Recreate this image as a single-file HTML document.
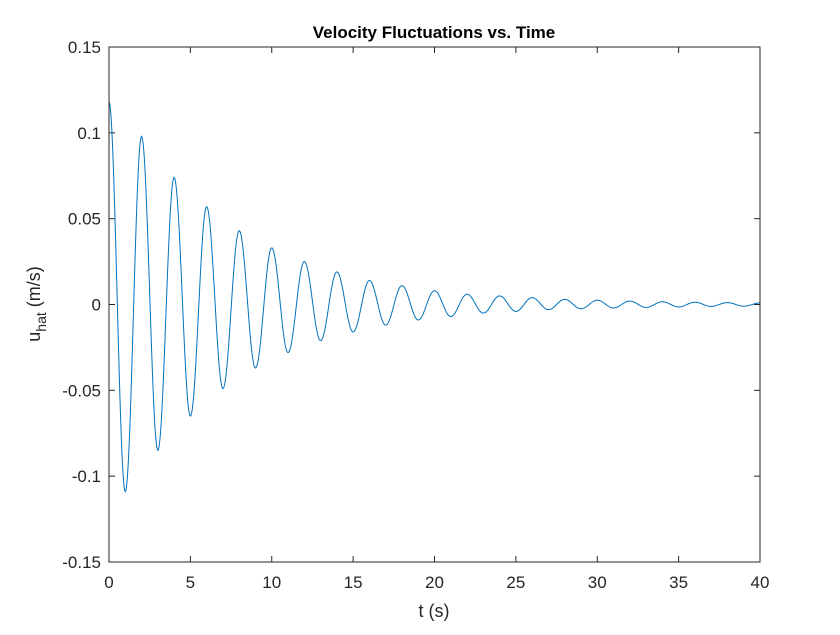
<!DOCTYPE html>
<html><head><meta charset="utf-8"><style>
body{margin:0;background:#fff;}
svg text{font-family:"Liberation Sans",Arial,sans-serif;fill:#262626;}
</style></head><body>
<svg id="chart" width="840" height="630" viewBox="0 0 840 630">
<rect x="0" y="0" width="840" height="630" fill="#fff"/>
<g id="ticks"></g>
<path id="series" fill="none" stroke="#0072BD" stroke-width="1"/>
<rect x="109" y="47" width="651" height="515" fill="none" stroke="#262626" stroke-width="1"/>
<text x="434" y="38" text-anchor="middle" font-size="17" font-weight="bold" style="fill:#000">Velocity Fluctuations vs. Time</text>
<text x="434" y="617" text-anchor="middle" font-size="18">t (s)</text>
<text transform="translate(40,304) rotate(-90)" text-anchor="middle" font-size="18">u<tspan font-size="14" dy="6">hat</tspan><tspan dy="-6"> (m/s)</tspan></text>
</svg>
<script>
const extremaT=[0,1,2,3,4,5,6,7,8,9,10,11,12,13,14,15,16,17,18,19,20,21,22,23,24,25,26,27,28,29,30,31,32,33,34,35,36,37,38,39,40];
const extremaV=[0.118,-0.109,0.098,-0.085,0.074,-0.065,0.057,-0.049,0.043,-0.037,0.033,-0.028,0.025,-0.021,0.019,-0.016,0.014,-0.012,0.011,-0.009,0.008,-0.007,0.006,-0.005,0.005,-0.004,0.004,-0.003,0.003,-0.0025,0.0025,-0.002,0.002,-0.0017,0.0016,-0.0014,0.0013,-0.0011,0.0011,-0.001,0.0009];
const xTicks=[0,5,10,15,20,25,30,35,40];
const yTicks=[-0.15,-0.1,-0.05,0,0.05,0.1,0.15];
const yTickLabels=["-0.15","-0.1","-0.05","0","0.05","0.1","0.15"];
const X0=109,X1=760,Y0=562,Y1=47;
function sx(t){return X0+(t-0)/(40-0)*(X1-X0);}
function sy(v){return Y0-(v+0.15)/0.3*(Y0-Y1);}
const g=document.getElementById('ticks');
const NS='http://www.w3.org/2000/svg';
function mk(tag,attrs){const e=document.createElementNS(NS,tag);for(const k in attrs)e.setAttribute(k,attrs[k]);return e;}
xTicks.forEach(t=>{
 const x=sx(t);
 const l1=mk('line',{x1:x,x2:x,y1:Y0,y2:Y0-6,stroke:'#262626'});
 
 
 g.appendChild(l1);
 const l2=mk('line',{x1:x,x2:x,y1:Y1,y2:Y1+6,stroke:'#262626'});
 
 
 g.appendChild(l2);
 const tx=mk('text',{x:x,y:Y0+26,'text-anchor':'middle','font-size':'17'});
 tx.textContent=String(t);
 
 
 g.appendChild(tx);
});
yTicks.forEach((v,i)=>{
 const y=sy(v);
 const l1=mk('line',{x1:X0,x2:X0+6,y1:y,y2:y,stroke:'#262626'});
 
 
 g.appendChild(l1);
 const l2=mk('line',{x1:X1,x2:X1-6,y1:y,y2:y,stroke:'#262626'});
 
 
 g.appendChild(l2);
 const tx=mk('text',{x:X0-8,y:y+6,'text-anchor':'end','font-size':'17'});
 tx.textContent=yTickLabels[i];
 
 
 g.appendChild(tx);
});
let d='';
for(let i=0;i<extremaT.length-1;i++){
 const t0=extremaT[i],t1=extremaT[i+1],v0=extremaV[i],v1=extremaV[i+1];
 for(let k=(i===0?0:1);k<=30;k++){
  const f=k/30;const c=(1-Math.cos(Math.PI*f))/2;
  const t=t0+(t1-t0)*f;const v=v0+(v1-v0)*c;
  d+=(d?'L':'M')+sx(t).toFixed(2)+','+sy(v).toFixed(2);
 }
}
document.getElementById('series').setAttribute('d',d);
</script>
</body></html>
